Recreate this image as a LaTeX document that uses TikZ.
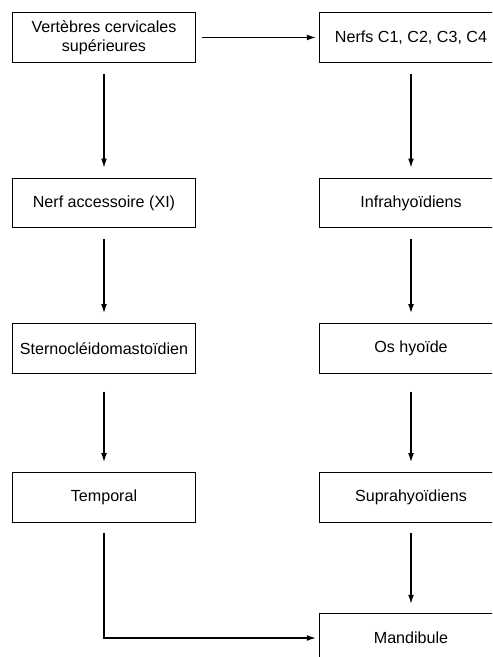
\documentclass[tikz,border=0pt]{standalone}
\usepackage{fontspec}
\setmainfont{Liberation Sans}
\usetikzlibrary{arrows.meta}
\usetikzlibrary{positioning}

\tikzset{
  box/.style={draw, line width=0.6pt, minimum width=91.5pt, minimum height=24.8pt,
    inner sep=2pt, align=center, font=\fontsize{8.05}{9.4}\selectfont},
  link/.style={-{Latex[length=4.5pt,width=2.9pt]}, line width=0.6pt},
  down/.style={link, shorten <=5.5pt, shorten >=5pt}
}

\begin{document}
\begin{tikzpicture}[x=0.5pt,y=-0.5pt]
  \useasboundingbox (0,0) rectangle (492,657);
  \clip (0,0) rectangle (492,657);

  % Left column
  \node[box] (vertebres) at (104,37.5) {Vertèbres cervicales\\supérieures};
  \node[box] (accessoire) at (104,203) {Nerf accessoire (XI)};
  \node[box] (sterno) at (104,348.5) {Sternocléidomastoïdien};
  \node[box] (temporal) at (104,497.5) {Temporal};

  % Right column
  \node[box] (nerfs) at (411,37.5) {Nerfs C1, C2, C3, C4};
  \node[box] (infra) at (411,203) {Infrahyoïdiens};
  \node[box] (hyoide) at (411,348.5) {Os hyoïde};
  \node[box] (supra) at (411,497.5) {Suprahyoïdiens};
  \node[box] (mandibule) at (411,638) {Mandibule};

  % Connectors
  \draw[link, shorten <=3pt, shorten >=1.5pt] (vertebres) -- (nerfs);
  \draw[down] (vertebres) -- (accessoire);
  \draw[down] (accessoire) -- (sterno);
  \draw[down, shorten <=9pt] (sterno) -- (temporal);
  \draw[down] (nerfs) -- (infra);
  \draw[down] (infra) -- (hyoide);
  \draw[down, shorten <=9pt] (hyoide) -- (supra);
  \draw[down, shorten <=4.8pt, shorten >=4.4pt] (supra) -- (mandibule);
  \draw[link, shorten <=4.8pt, shorten >=1.5pt] (temporal) |- (mandibule);
\end{tikzpicture}
\end{document}
